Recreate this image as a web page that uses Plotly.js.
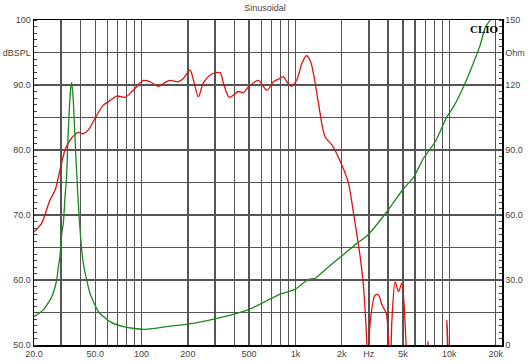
<!DOCTYPE html>
<html>
<head>
<meta charset="utf-8">
<script src="https://cdn.plot.ly/plotly-3.0.1.min.js"></script>
<style>html,body{margin:0;padding:0;background:#fff;}#chart{width:530px;height:364px;}</style>
</head>
<body>
<div id="chart"></div>
<script>
// SPL response (left axis, dBSPL)
const splFreq = [20, 22.4, 25.4, 27.4, 29.5, 31.8, 34.3, 38.8, 41.8, 45.1, 49.9, 56.4, 60.8, 69, 78.1, 88.4,
  102.8, 113.5, 128.6, 142.2, 153.2, 173.5, 187, 206.6, 217.2, 234, 252, 286, 324, 340, 372, 426, 459, 494,
  574, 652, 719, 775, 836, 879, 948, 1021, 1101, 1179, 1246, 1309, 1411, 1560, 1725, 1952, 2211, 2384, 2634,
  2769, 2911, 2980, 3058, 3297, 3466, 3647, 3890, 4026, 4130, 4236, 4451, 4676, 4919, 5093, 5303, 5800,
  7000, 7260, 7500, 9300, 9650, 10000, 11000, 22000];
const splDb = [67.4, 68.7, 72.3, 73.8, 76.9, 80.0, 81.5, 82.7, 82.5, 83.1, 84.9, 86.9, 87.4, 88.3, 88.1, 89.2,
  90.7, 90.5, 89.8, 90.4, 90.7, 90.5, 91.0, 92.3, 90.8, 88.2, 90.3, 91.7, 91.9, 90.3, 88.1, 89.0, 88.8, 89.7,
  90.7, 89.2, 90.5, 90.9, 91.3, 90.5, 89.8, 90.8, 93.3, 94.5, 93.8, 91.8, 87.2, 82.0, 80.8, 78.3, 74.9, 70.3, 63.6,
  59.0, 50.3, 44.0, 53.4, 57.7, 57.7, 56.2, 54.9, 50.8, 44.0, 53.8, 59.7, 58.2, 59.5, 55.9, 48.0, 40.0,
  44.0, 50.5, 44.0, 44.0, 53.8, 44.0, 35.0, 35.0];

// Impedance (right axis, Ohm)
const impFreq = [20, 23.0, 26.1, 28.1, 28.8, 29.5, 30.3, 31.0, 31.8, 32.6, 33.4, 34.7, 35.2, 36.0, 37.5, 39.4,
  41.8, 46.2, 52.4, 62.4, 76.1, 102.8, 145.8, 217.2, 324, 507, 796, 996, 1215, 1343, 1600, 2003, 2507, 2911,
  3930, 4919, 5852, 6795, 8100, 9650, 10650, 12370, 14030, 15890, 17120, 18450, 20000];
const impOhm = [13.1, 16.2, 22.3, 30.0, 36.1, 41.0, 51.5, 56.0, 68.0, 78.0, 99.0, 119.0, 121.1, 113.0, 85.4, 57.7,
  37.7, 23.9, 15.4, 10.8, 8.5, 7.2, 8.5, 10.0, 12.6, 16.6, 23.5, 25.7, 30.3, 30.8, 35.4, 41.1, 46.9, 50.3,
  61.5, 71.2, 77.4, 86.2, 93.8, 105.4, 110.0, 119.2, 128.4, 138.5, 146.6, 150.0, 157.0];

// Axis ticks
const xGridVals = [20, 30, 40, 50, 60, 70, 80, 90, 100, 200, 300, 400, 500, 600, 700, 800, 900,
  1000, 2000, 3000, 4000, 5000, 6000, 7000, 8000, 9000, 10000, 20000];
const xGridText = ['20.0', '', '', '50.0', '', '', '', '', '100', '200', '', '', '500', '', '', '', '',
  '1k', '2k', 'Hz', '', '5k', '', '', '', '', '10k', '20k'];
const yLeftVals = [50, 55, 60, 65, 70, 75, 80, 85, 90, 95, 100];
const yLeftText = ['50.0', '', '60.0', '', '70.0', '', '80.0', '', '90.0', 'dBSPL', '100'];
const yRightVals = [0, 15, 30, 45, 60, 75, 90, 105, 120, 135, 150];
const yRightText = ['0', '', '30.0', '', '60.0', '', '90.0', '', '120', 'Ohm', '150'];

const font = {family: 'Liberation Sans, Arial, sans-serif', size: 9, color: '#444'};

const traces = [
  {x: splFreq, y: splDb, type: 'scatter', mode: 'lines', line: {color: '#e01010', width: 1.3, shape: 'spline', smoothing: 0.8}, yaxis: 'y', hoverinfo: 'skip'},
  {x: impFreq, y: impOhm, type: 'scatter', mode: 'lines', line: {color: '#1a8a1a', width: 1.3, shape: 'spline', smoothing: 0.5}, yaxis: 'y2', hoverinfo: 'skip'}
];

const layout = {
  width: 530, height: 364,
  margin: {l: 34, r: 28, t: 20, b: 19, pad: 0},
  paper_bgcolor: '#fff', plot_bgcolor: '#fff',
  showlegend: false,
  font: font,
  title: {text: 'Sinusoidal', font: {family: 'Liberation Sans, Arial, sans-serif', size: 9, color: '#444'},
    x: 0.5, xref: 'container', y: 0.978, yref: 'container', yanchor: 'middle'},
  xaxis: {
    type: 'log', range: [Math.log10(20), Math.log10(22000)],
    tickmode: 'array', tickvals: xGridVals, ticktext: xGridText,
    showgrid: true, gridcolor: '#555', gridwidth: 1.4,
    showline: true, linecolor: '#000', linewidth: 1.5, mirror: true,
    ticks: '', zeroline: false, tickfont: font, fixedrange: true
  },
  yaxis: {
    range: [50, 100],
    tickmode: 'array', tickvals: yLeftVals, ticktext: yLeftText,
    showgrid: true, gridcolor: '#555', gridwidth: 1.4,
    showline: true, linecolor: '#000', linewidth: 1.5, mirror: true,
    ticks: '', zeroline: false, tickfont: font, fixedrange: true,
    minor: {tickmode: 'linear', tick0: 50, dtick: 1, ticks: 'inside', ticklen: 3, tickcolor: '#444', tickwidth: 1, showgrid: false}
  },
  yaxis2: {
    range: [0, 150], overlaying: 'y', side: 'right',
    tickmode: 'array', tickvals: yRightVals, ticktext: yRightText,
    showgrid: false, showline: true, linecolor: '#000', linewidth: 1.5,
    ticks: '', zeroline: false, tickfont: font, fixedrange: true,
    minor: {tickmode: 'linear', tick0: 0, dtick: 3, ticks: 'inside', ticklen: 3, tickcolor: '#444', tickwidth: 1, showgrid: false}
  },
  annotations: [
    {text: '<b>CLIO</b>', xref: 'paper', yref: 'paper', x: 1, y: 1, xanchor: 'right', yanchor: 'top',
     xshift: -1, yshift: -1, showarrow: false,
     font: {family: 'Liberation Serif, DejaVu Serif, serif', size: 11, color: '#000'}}
  ]
};

Plotly.newPlot('chart', traces, layout, {displayModeBar: false, staticPlot: true});
</script>
</body>
</html>
